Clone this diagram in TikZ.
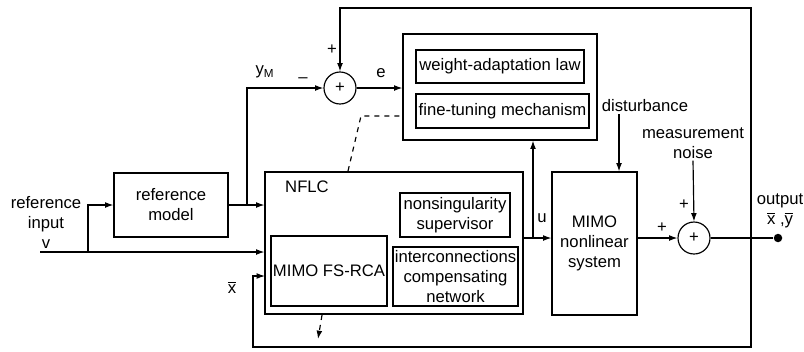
\documentclass[tikz,border=0pt]{standalone}
\usepackage{fontspec}
\setmainfont{Liberation Sans}
\usetikzlibrary{arrows.meta}
\newcommand{\barsym}[1]{$\overline{\mbox{#1}}$}
\begin{document}
\begin{tikzpicture}[x=0.6pt, y=-0.6pt, line width=0.7pt,
    >={Latex[length=5pt,width=3.5pt]},
    block/.style={draw, align=center, inner sep=1pt},
    sumnode/.style={draw, circle, minimum size=19.2pt, inner sep=0pt},
    lbl/.style={inner sep=1pt, align=center}]
    \useasboundingbox (0,0) rectangle (804,351);

    % Reference model
    \node[lbl] (refin) at (46,222) {reference\\input\\v};
    \node[block, minimum width=68.4pt, minimum height=38.4pt] (refmodel) at (171,205) {reference\\model};

    % Adaptation
    \node[draw, minimum width=116.4pt, minimum height=63.6pt] (adapt) at (500,87) {};
    \node[block, minimum width=100.8pt, minimum height=19.8pt] (law) at (500,66.5) {weight-adaptation law};
    \node[block, minimum width=103.8pt, minimum height=20.4pt] (tune) at (502.5,111) {fine-tuning mechanism};
    \node[sumnode] (sum1) at (340,88) {+};

    % Controller
    \node[draw, minimum width=154.8pt, minimum height=85.2pt] (nflc) at (394,243) {};
    \node[lbl] (nflclbl) at (307,187) {NFLC};
    \node[block, minimum width=66pt, minimum height=26.4pt] (nonsing) at (455,215) {nonsingularity\\supervisor};
    \node[block, minimum width=69.6pt, minimum height=42pt] (fsrca) at (329,271) {MIMO FS-RCA};
    \node[block, minimum width=75pt, minimum height=35.4pt] (interc) at (455.5,276.5) {interconnections\\compensating\\network};

    % Plant
    \node[block, minimum width=51pt, minimum height=85.8pt] (plant) at (594.5,243.5) {MIMO\\nonlinear\\system};
    \node[sumnode] (sum2) at (694,238) {+};
    \node[lbl] (dist) at (645,106) {disturbance};
    \node[lbl] (noise) at (693,143) {measurement\\noise};
    \node[circle, fill, inner sep=1.8pt] (outdot) at (778,238) {};
    \node[lbl] (outlbl) at (780,211) {output\\\barsym{x} ,\barsym{y}};

    % Coordinates
    \coordinate (vin) at (40,252);
    \coordinate (vsplit) at (88,252);
    \coordinate (ymsplit) at (247,205);
    \coordinate (usplit) at (533,238);
    \coordinate (fbsplit) at (751,238);
    \coordinate (fbtop) at (751,8);
    \coordinate (fbleft) at (253,347);
    \coordinate (xin) at (265,276);
    \coordinate (distin) at (619,114);
    \coordinate (dsh1) at (361,116);
    \coordinate (dsh2) at (348,171);
    \coordinate (dsh3) at (322,315);
    \coordinate (dsh4) at (318,339);

    % Signals
    \draw[->] (vin) -- (vin -| nflc.west);
    \draw[->] (vsplit) |- (refmodel.west);
    \draw[->] (refmodel.east) -- (refmodel.east -| nflc.west);
    \draw[->] (ymsplit) |- (sum1.west);
    \draw[->] (sum1.east) -- (sum1 -| adapt.west);
    \draw[->] (usplit -| nflc.east) -- (usplit -| plant.west);
    \draw[->] (usplit) -- (usplit |- adapt.south);
    \draw[->] (plant.east |- sum2) -- (sum2.west);
    \draw[->] (distin) -- (distin |- plant.north);
    \draw[->] (noise.south) -- (sum2.north);
    \draw (sum2.east) -- (outdot);

    % Feedback
    \draw[->] (fbsplit) -- (fbtop) -| (sum1.north);
    \draw[->] (fbsplit) |- (fbleft) |- (xin);

    % Dashed links
    \draw[dashed] (dsh2) -- (dsh1) -- (dsh1 -| adapt.west);
    \draw[dashed, ->] (dsh3) -- (dsh4);

    % Labels
    \node[lbl] at (265,72) {y\textsubscript{M}};
    \node[lbl] at (303,80) {--};
    \node[lbl] at (332,50) {+};
    \node[lbl] at (381,73) {e};
    \node[lbl] at (542,218) {u};
    \node[lbl] at (232,287) {\barsym{x}};
    \node[lbl] at (684,205) {+};
    \node[lbl] at (662,228) {+};
  \end{tikzpicture}
\end{document}
